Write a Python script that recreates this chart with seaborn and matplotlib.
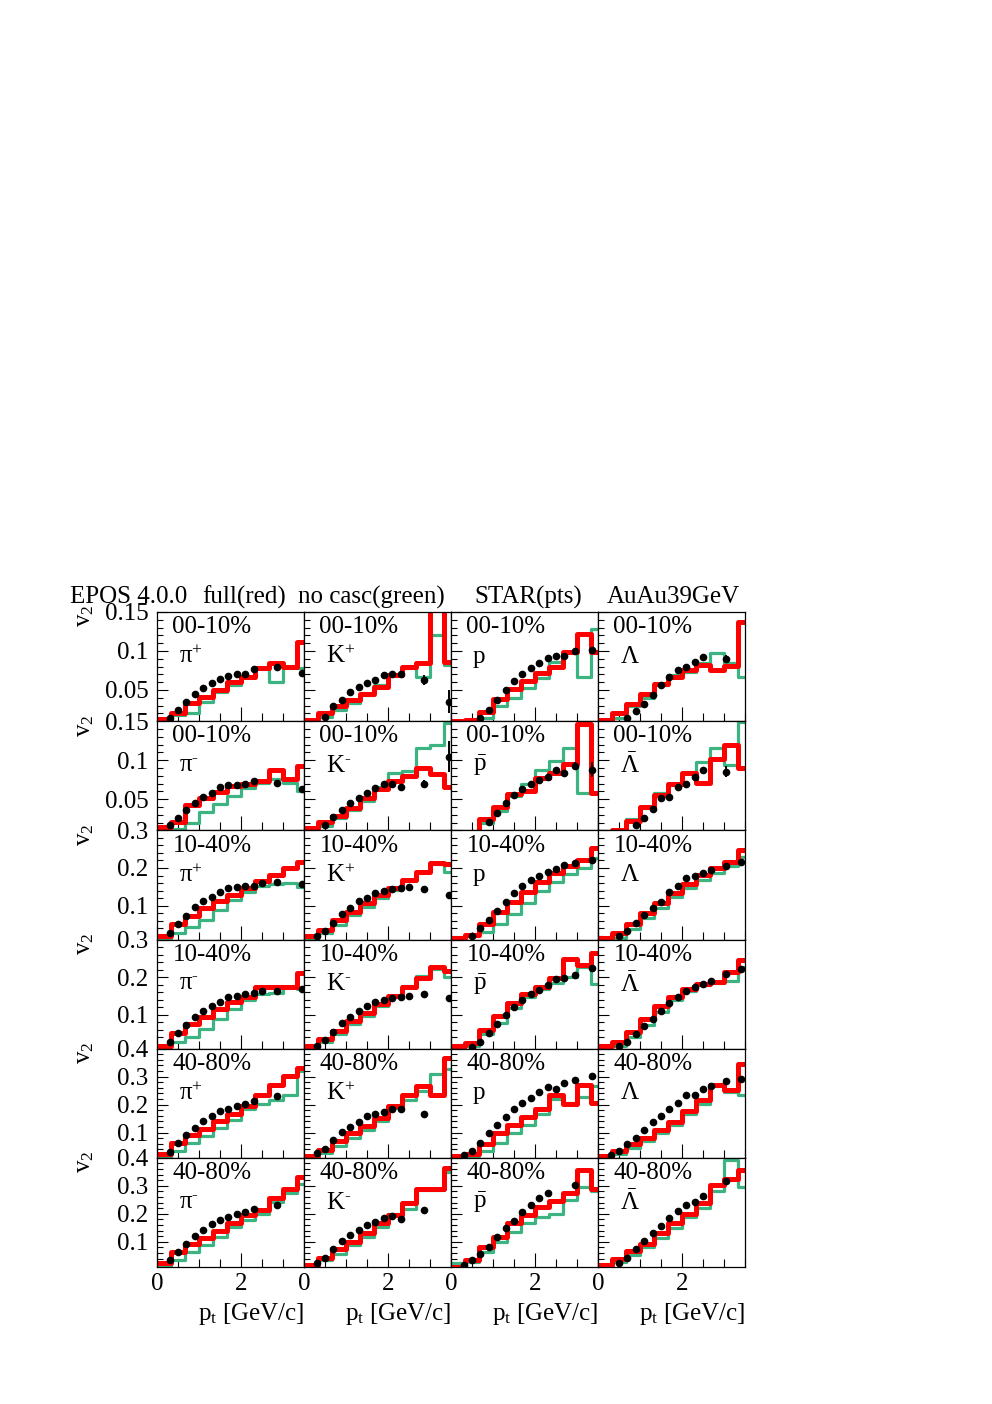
import numpy as np
import matplotlib
matplotlib.use("Agg")
import matplotlib.pyplot as plt
import seaborn as sns
from matplotlib.ticker import FixedLocator, MultipleLocator, FuncFormatter

sns.set_style("ticks")
plt.rcParams['font.family'] = ['Liberation Serif', 'DejaVu Serif']
plt.rcParams['mathtext.fontset'] = 'custom'
plt.rcParams['mathtext.rm'] = 'Liberation Serif'
plt.rcParams['mathtext.it'] = 'Liberation Serif:italic'
plt.rcParams['mathtext.default'] = 'rm'
plt.rcParams['text.color'] = 'black'
plt.rcParams['axes.labelcolor'] = 'black'

nan = np.nan

# model histogram bin edges in pt (GeV/c)
edges = [0.0, 0.333, 0.667, 1.0, 1.333, 1.667, 2.0, 2.333, 2.667, 3.0, 3.333, 3.667]

# STAR data pt positions per species
pt_pik = [0.3, 0.5, 0.7, 0.9, 1.1, 1.3, 1.5, 1.7, 1.9, 2.1, 2.3, 2.5, 2.85, 3.45]
pt_p = [0.3, 0.5, 0.7, 0.9, 1.1, 1.3, 1.5, 1.7, 1.9, 2.1, 2.3, 2.5, 2.7, 2.95, 3.35]
pt_lam = [0.3, 0.5, 0.7, 0.9, 1.1, 1.3, 1.5, 1.7, 1.9, 2.1, 2.3, 2.5, 2.7, 3.05, 3.4]

centralities = ['00-10%', '00-10%', '10-40%', '10-40%', '40-80%', '40-80%']
particles_pos = [r'$\pi^{+}$', r'$\mathrm{K}^{+}$', 'p', r'$\Lambda$']
particles_neg = [r'$\pi^{‐}$', r'$\mathrm{K}^{‐}$', r'$\bar{\mathrm{p}}$', r'$\bar{\Lambda}$']
ymax_rows = [0.15, 0.15, 0.3, 0.3, 0.4, 0.4]
ymin = 0.01

# ---- 00-10% positive
red_pi_r1 = [0.013, 0.020, 0.033, 0.041, 0.050, 0.060, 0.067, 0.078, 0.084, 0.079, 0.112]
green_pi_r1 = [0.008, 0.018, 0.021, 0.035, 0.047, 0.057, 0.067, 0.078, 0.060, 0.079, 0.078]
star_pi_r1 = [0.014, 0.024, 0.034, 0.045, 0.053, 0.059, 0.064, 0.068, 0.070, 0.071, 0.077, nan, 0.080, 0.072]
red_k_r1 = [0.012, 0.021, 0.030, 0.037, 0.045, 0.054, 0.069, 0.080, 0.084, 0.165, 0.086]
green_k_r1 = [0.008, 0.015, 0.024, 0.033, 0.043, 0.056, 0.071, 0.078, 0.067, 0.120, 0.082]
star_k_r1 = [nan, 0.015, 0.029, 0.037, 0.047, 0.054, 0.059, 0.063, 0.069, 0.070, 0.071, nan, 0.063, 0.035]
red_p_r1 = [0.010, 0.012, 0.0215, 0.0386, 0.0514, 0.0616, 0.0714, 0.080, 0.099, 0.122, 0.099]
green_p_r1 = [0.008, 0.010, 0.014, 0.030, 0.040, 0.053, 0.066, 0.086, 0.099, 0.067, 0.128]
star_p_r1 = [nan, nan, 0.0137, 0.0245, 0.037, 0.050, 0.061, 0.070, 0.078, 0.084, 0.091, 0.094, 0.094, 0.100, 0.101]
red_l_r1 = [0.0116, 0.020, 0.032, 0.0445, 0.0574, 0.067, 0.0757, 0.082, 0.0757, 0.081, 0.137]
green_l_r1 = [0.008, 0.014, 0.029, 0.040, 0.0565, 0.069, 0.0736, 0.084, 0.097, 0.084, 0.067]
star_l_r1 = [nan, nan, 0.014, 0.023, 0.032, 0.043, 0.057, 0.067, 0.075, 0.080, 0.0855, 0.092, nan, 0.090, nan]

# ---- 00-10% negative
red_pi_r2 = [0.014, 0.021, 0.042, 0.052, 0.059, 0.067, 0.069, 0.073, 0.088, 0.0755, 0.093]
green_pi_r2 = [0.008, 0.012, 0.020, 0.033, 0.0436, 0.054, 0.0648, 0.071, 0.0755, 0.071, 0.0605]
star_pi_r2 = [0.0166, 0.026, 0.036, 0.045, 0.053, 0.058, 0.065, 0.068, 0.068, 0.070, 0.073, nan, 0.071, 0.0635]
red_k_r2 = [0.013, 0.021, 0.0285, 0.039, 0.051, 0.0635, 0.0734, 0.080, 0.0905, 0.082, 0.065]
green_k_r2 = [0.008, 0.016, 0.026, 0.036, 0.047, 0.065, 0.084, 0.086, 0.115, 0.120, 0.148]
star_k_r2 = [nan, 0.017, 0.027, 0.036, 0.045, 0.052, 0.0585, 0.064, 0.069, 0.069, 0.066, nan, 0.069, 0.1045]
red_p_r2 = [0.008, 0.008, 0.0241, 0.0404, 0.0563, 0.0605, 0.0776, 0.084, 0.0947, 0.147, 0.058]
green_p_r2 = [0.006, 0.006, 0.020, 0.035, 0.054, 0.069, 0.0874, 0.099, 0.116, 0.0575, 0.0575]
star_p_r2 = [nan, nan, nan, 0.021, 0.032, 0.045, 0.055, 0.0635, 0.069, 0.074, 0.079, 0.088, 0.084, 0.093, 0.088]
red_l_r2 = [0.008, 0.010, 0.022, 0.0404, 0.055, 0.069, 0.083, 0.071, 0.101, 0.119, 0.090]
green_l_r2 = [0.006, 0.011, 0.024, 0.039, 0.0575, 0.069, 0.084, 0.097, 0.116, 0.0935, 0.149]
star_l_r2 = [nan, nan, nan, 0.017, 0.026, 0.037, 0.051, 0.053, 0.065, 0.069, 0.078, 0.0875, nan, 0.085, nan]

# ---- 10-40% positive
red_pi_r3 = [0.018, 0.0505, 0.0735, 0.093, 0.112, 0.128, 0.146, 0.1657, 0.1815, 0.199, 0.217]
green_pi_r3 = [0.008, 0.027, 0.0445, 0.062, 0.0886, 0.115, 0.137, 0.153, 0.157, 0.160, 0.150]
star_pi_r3 = [0.0265, 0.0505, 0.0735, 0.097, 0.111, 0.124, 0.137, 0.146, 0.149, 0.152, 0.152, 0.159, 0.162, 0.157]
red_k_r3 = [0.018, 0.0355, 0.062, 0.082, 0.106, 0.128, 0.146, 0.168, 0.190, 0.2125, 0.210]
green_k_r3 = [0.008, 0.027, 0.049, 0.0754, 0.0975, 0.121, 0.141, 0.168, 0.190, 0.210, 0.190]
star_k_r3 = [0.018, 0.033, 0.053, 0.077, 0.095, 0.111, 0.121, 0.133, 0.139, 0.144, 0.148, 0.149, 0.144, 0.127]
red_p_r3 = [0.015, 0.022, 0.0505, 0.082, 0.109, 0.137, 0.162, 0.186, 0.206, 0.221, 0.252]
green_p_r3 = [0.008, 0.018, 0.029, 0.0505, 0.077, 0.106, 0.139, 0.162, 0.183, 0.199, 0.226]
star_p_r3 = [nan, 0.0205, 0.040, 0.062, 0.086, 0.109, 0.133, 0.151, 0.168, 0.180, 0.190, 0.198, 0.208, 0.214, 0.220]
red_l_r3 = [0.015, 0.027, 0.0505, 0.080, 0.106, 0.133, 0.157, 0.181, 0.201, 0.217, 0.248]
green_l_r3 = [0.008, 0.015, 0.038, 0.0666, 0.095, 0.124, 0.148, 0.168, 0.186, 0.204, 0.230]
star_l_r3 = [nan, 0.018, 0.033, 0.053, 0.075, 0.095, 0.109, 0.137, 0.151, 0.173, 0.180, 0.186, 0.195, 0.204, 0.217]

# ---- 10-40% negative
red_pi_r4 = [0.018, 0.051, 0.076, 0.095, 0.116, 0.133, 0.148, 0.173, 0.175, 0.175, 0.210]
green_pi_r4 = [0.008, 0.027, 0.040, 0.0625, 0.089, 0.115, 0.139, 0.155, 0.157, 0.173, 0.168]
star_pi_r4 = [0.027, 0.051, 0.074, 0.095, 0.109, 0.124, 0.135, 0.147, 0.151, 0.156, 0.157, 0.162, 0.164, 0.169]
red_k_r4 = [0.018, 0.036, 0.058, 0.083, 0.104, 0.130, 0.151, 0.173, 0.199, 0.228, 0.217]
green_k_r4 = [0.008, 0.027, 0.049, 0.076, 0.098, 0.124, 0.148, 0.177, 0.204, 0.222, 0.200]
star_k_r4 = [0.018, 0.033, 0.054, 0.078, 0.095, 0.109, 0.124, 0.133, 0.139, 0.144, 0.148, 0.151, 0.155, 0.145]
red_p_r4 = [0.016, 0.024, 0.060, 0.098, 0.131, 0.155, 0.175, 0.198, 0.247, 0.231, 0.265]
green_p_r4 = [0.008, 0.016, 0.049, 0.078, 0.118, 0.147, 0.169, 0.184, 0.200, 0.226, 0.182]
star_p_r4 = [nan, 0.014, 0.027, 0.051, 0.076, 0.100, 0.122, 0.139, 0.155, 0.166, 0.180, 0.195, 0.199, 0.206, 0.224]
red_l_r4 = [0.016, 0.027, 0.054, 0.089, 0.124, 0.148, 0.169, 0.182, 0.186, 0.215, 0.246]
green_l_r4 = [0.008, 0.016, 0.040, 0.074, 0.107, 0.138, 0.163, 0.178, 0.184, 0.191, 0.226]
star_l_r4 = [nan, 0.016, 0.027, 0.049, 0.069, 0.089, 0.110, 0.131, 0.148, 0.163, 0.175, 0.182, 0.189, 0.208, 0.222]

# ---- 40-80% positive
red_pi_r5 = [0.022, 0.064, 0.090, 0.114, 0.141, 0.165, 0.195, 0.233, 0.272, 0.302, 0.331]
green_pi_r5 = [0.010, 0.034, 0.064, 0.088, 0.117, 0.147, 0.183, 0.204, 0.216, 0.236, 0.319]
star_pi_r5 = [0.030, 0.064, 0.093, 0.117, 0.141, 0.161, 0.177, 0.185, 0.197, 0.203, 0.212, nan, 0.230, nan]
red_k_r5 = [0.018, 0.037, 0.070, 0.097, 0.123, 0.153, 0.197, 0.233, 0.266, 0.236, 0.367]
green_k_r5 = [0.010, 0.028, 0.054, 0.082, 0.109, 0.141, 0.189, 0.218, 0.248, 0.311, 0.328]
star_k_r5 = [0.026, 0.042, 0.073, 0.102, 0.121, 0.139, 0.159, 0.168, 0.173, 0.183, 0.186, nan, 0.168, nan]
red_p_r5 = [0.016, 0.025, 0.061, 0.099, 0.129, 0.156, 0.183, 0.236, 0.204, 0.272, 0.206]
green_p_r5 = [0.010, 0.016, 0.034, 0.064, 0.097, 0.129, 0.165, 0.222, 0.206, 0.228, 0.266]
star_p_r5 = [0.019, 0.034, 0.064, 0.097, 0.129, 0.156, 0.185, 0.206, 0.224, 0.245, 0.264, 0.257, 0.278, 0.287, 0.302]
red_l_r5 = [0.016, 0.034, 0.058, 0.082, 0.109, 0.137, 0.177, 0.216, 0.272, 0.254, 0.347]
green_l_r5 = [0.010, 0.022, 0.046, 0.070, 0.099, 0.129, 0.165, 0.204, 0.268, 0.244, 0.236]
star_l_r5 = [0.019, 0.034, 0.058, 0.082, 0.109, 0.137, 0.161, 0.185, 0.206, 0.236, 0.236, 0.256, 0.268, 0.284, 0.290]

# ---- 40-80% negative
red_pi_r6 = [0.023, 0.064, 0.091, 0.114, 0.138, 0.166, 0.195, 0.213, 0.257, 0.290, 0.332]
green_pi_r6 = [0.010, 0.035, 0.064, 0.088, 0.118, 0.154, 0.177, 0.201, 0.243, 0.273, 0.308]
star_pi_r6 = [0.035, 0.064, 0.094, 0.121, 0.141, 0.162, 0.177, 0.189, 0.201, 0.207, 0.217, nan, 0.231, nan]
red_k_r6 = [0.019, 0.043, 0.076, 0.100, 0.130, 0.166, 0.195, 0.237, 0.290, 0.290, 0.362]
green_k_r6 = [0.010, 0.035, 0.058, 0.088, 0.118, 0.154, 0.201, 0.219, 0.284, 0.284, 0.350]
star_k_r6 = [0.023, 0.043, 0.074, 0.102, 0.124, 0.142, 0.160, 0.172, 0.186, 0.193, 0.181, nan, 0.213, nan]
red_p_r6 = [0.011, 0.035, 0.082, 0.118, 0.166, 0.195, 0.225, 0.245, 0.273, 0.356, 0.288]
green_p_r6 = [0.023, 0.029, 0.064, 0.100, 0.136, 0.166, 0.189, 0.201, 0.249, 0.296, 0.281]
star_p_r6 = [0.017, 0.035, 0.058, 0.082, 0.118, 0.148, 0.174, 0.207, 0.233, 0.255, 0.273, nan, nan, 0.302, nan]
red_l_r6 = [0.017, 0.038, 0.067, 0.094, 0.130, 0.166, 0.201, 0.237, 0.302, 0.326, 0.356]
green_l_r6 = [0.010, 0.029, 0.053, 0.082, 0.114, 0.148, 0.189, 0.221, 0.281, 0.392, 0.296]
star_l_r6 = [nan, 0.023, 0.043, 0.074, 0.102, 0.130, 0.157, 0.186, 0.210, 0.231, 0.241, 0.264, nan, 0.317, nan]

# visible STAR error bars: (row, column, point index, error)
star_errors = [(0, 1, 12, 0.006), (0, 1, 13, 0.015), (1, 1, 12, 0.005), (1, 1, 13, 0.02),
               (0, 2, 14, 0.004), (1, 2, 13, 0.004), (1, 2, 14, 0.01), (0, 3, 13, 0.005),
               (1, 3, 11, 0.004), (1, 3, 13, 0.007), (4, 2, 14, 0.01), (4, 3, 14, 0.012),
               (5, 3, 13, 0.012)]

red_rows = [[red_pi_r1, red_k_r1, red_p_r1, red_l_r1], [red_pi_r2, red_k_r2, red_p_r2, red_l_r2],
            [red_pi_r3, red_k_r3, red_p_r3, red_l_r3], [red_pi_r4, red_k_r4, red_p_r4, red_l_r4],
            [red_pi_r5, red_k_r5, red_p_r5, red_l_r5], [red_pi_r6, red_k_r6, red_p_r6, red_l_r6]]
green_rows = [[green_pi_r1, green_k_r1, green_p_r1, green_l_r1], [green_pi_r2, green_k_r2, green_p_r2, green_l_r2],
              [green_pi_r3, green_k_r3, green_p_r3, green_l_r3], [green_pi_r4, green_k_r4, green_p_r4, green_l_r4],
              [green_pi_r5, green_k_r5, green_p_r5, green_l_r5], [green_pi_r6, green_k_r6, green_p_r6, green_l_r6]]
star_rows = [[star_pi_r1, star_k_r1, star_p_r1, star_l_r1], [star_pi_r2, star_k_r2, star_p_r2, star_l_r2],
             [star_pi_r3, star_k_r3, star_p_r3, star_l_r3], [star_pi_r4, star_k_r4, star_p_r4, star_l_r4],
             [star_pi_r5, star_k_r5, star_p_r5, star_l_r5], [star_pi_r6, star_k_r6, star_p_r6, star_l_r6]]
pt_cols = [pt_pik, pt_pik, pt_p, pt_lam]

RED = '#ff0000'
GREEN = '#3cb482'
FS = 18

W, H = 992, 1404
fig = plt.figure(figsize=(W / 100, H / 100), dpi=100)
fig.patch.set_facecolor('white')
x0, y0, pw, ph = 157, 612, 147, 109.17

centers = [(a + b) / 2 for a, b in zip(edges[:-1], edges[1:])]

for r in range(6):
    for c in range(4):
        ax = fig.add_axes([(x0 + c * pw) / W, 1 - (y0 + (r + 1) * ph) / H, pw / W, ph / H])
        sns.histplot(x=centers, weights=green_rows[r][c], bins=edges, element='step', fill=False,
                     color=GREEN, linewidth=2.3, ax=ax)
        sns.histplot(x=centers, weights=red_rows[r][c], bins=edges, element='step', fill=False,
                     color=RED, linewidth=3.6, ax=ax)
        pts = np.array(pt_cols[c])
        vals = np.array(star_rows[r][c])
        errs = np.zeros(len(vals))
        for (er, ec, ei, ev) in star_errors:
            if er == r and ec == c:
                errs[ei] = ev
        ax.errorbar(pts, vals, yerr=errs, fmt='o', color='black', ms=4.5, elinewidth=1.4,
                    capsize=0, zorder=5)

        ax.set_xlim(0, 3.5)
        ax.set_ylim(ymin, ymax_rows[r])
        ax.set_xlabel('')
        ax.set_ylabel('')
        ax.xaxis.set_major_locator(FixedLocator([0, 2]))
        ax.xaxis.set_minor_locator(MultipleLocator(0.5))
        if r < 2:
            ax.yaxis.set_major_locator(FixedLocator([0.05, 0.1, 0.15]))
            ax.yaxis.set_minor_locator(MultipleLocator(0.01))
        elif r < 4:
            ax.yaxis.set_major_locator(FixedLocator([0.1, 0.2, 0.3]))
            ax.yaxis.set_minor_locator(MultipleLocator(0.02))
        else:
            ax.yaxis.set_major_locator(FixedLocator([0.1, 0.2, 0.3, 0.4]))
            ax.yaxis.set_minor_locator(MultipleLocator(0.02))
        ax.yaxis.set_major_formatter(FuncFormatter(lambda v, p: f'{v:g}'))
        ax.xaxis.set_major_formatter(FuncFormatter(lambda v, p: f'{v:g}'))
        ax.tick_params(which='both', direction='in', top=False, right=False,
                       labelsize=FS, width=0.8, colors='black')
        ax.tick_params(axis='x', which='major', length=10, pad=4)
        ax.tick_params(axis='x', which='minor', length=6)
        ax.tick_params(axis='y', which='major', length=8, pad=6)
        ax.tick_params(axis='y', which='minor', length=4)
        ax.tick_params(labelleft=(c == 0), labelbottom=(r == 5))
        for s in ax.spines.values():
            s.set_linewidth(0.9)
            s.set_color('black')
            s.set_visible(True)

        ax.text(0.105, 0.86, centralities[r], transform=ax.transAxes, fontsize=FS,
                ha='left', va='center')
        label = particles_pos[c] if r % 2 == 0 else particles_neg[c]
        ax.text(0.15, 0.59, label, transform=ax.transAxes, fontsize=FS, ha='left', va='center')
        if r == 5:
            ax.text(1.0, -0.43, r'p$_{\mathrm{t}}$ [GeV/c]', transform=ax.transAxes,
                    fontsize=FS, ha='right', va='center')

    fig.text(85 / W, 1 - (y0 + r * ph - 7) / H, r'v$_{2}$', rotation=90, fontsize=FS,
             ha='center', va='top')

fig.text(70 / W, 1 - 597 / H, 'EPOS 4.0.0', fontsize=FS, ha='left', va='center')
fig.text(202 / W, 1 - 597 / H, 'full(red)', fontsize=FS, ha='left', va='center')
fig.text(298 / W, 1 - 597 / H, 'no casc(green)', fontsize=FS, ha='left', va='center')
fig.text(474 / W, 1 - 597 / H, 'STAR(pts)', fontsize=FS, ha='left', va='center')
fig.text(607 / W, 1 - 597 / H, 'AuAu39GeV', fontsize=FS, ha='left', va='center')

fig.savefig('out.png', dpi=100, facecolor='white')
